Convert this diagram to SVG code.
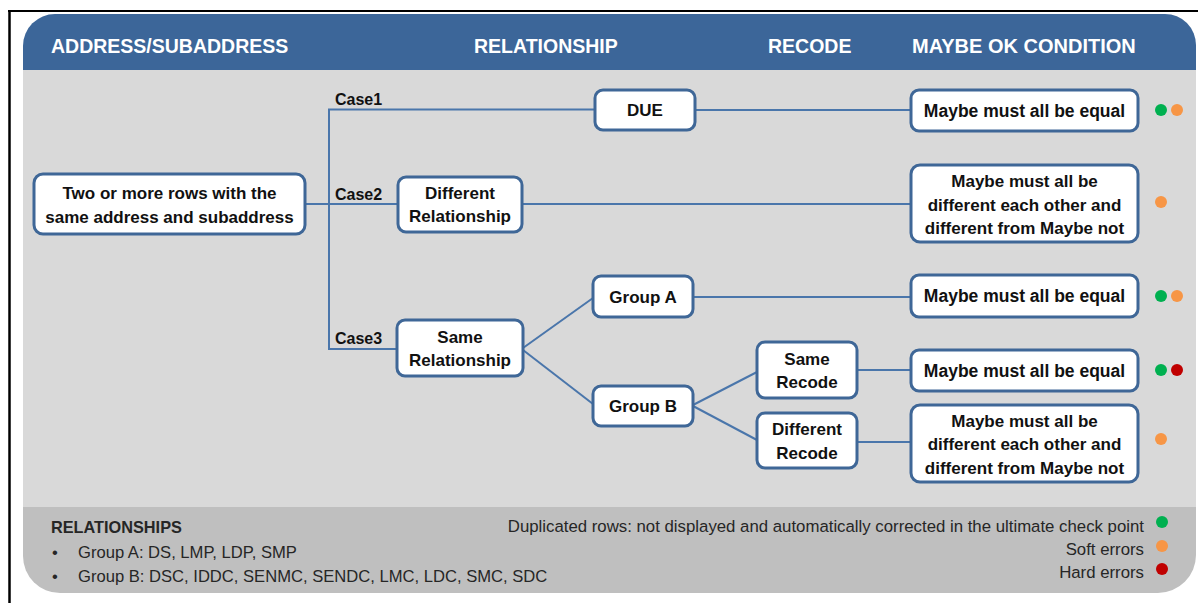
<svg xmlns="http://www.w3.org/2000/svg" width="1198" height="603" viewBox="0 0 1198 603">
  <defs>
    <clipPath id="panelClip">
      <path d="M23,46 A32,32 0 0 1 55,14 H1165 A31,31 0 0 1 1196,45 V555 A38,38 0 0 1 1158,593 H60 A37,37 0 0 1 23,556 Z"/>
    </clipPath>
    <style>
      .box { fill: #ffffff; stroke: #3f6797; stroke-width: 3; }
      .lbl { font-family: "Liberation Sans", Arial, sans-serif; font-weight: bold; font-size: 17px; fill: #111111; text-anchor: middle; }
      .eq { font-size: 17.5px; }
      .head { font-family: "Liberation Sans", Arial, sans-serif; font-weight: bold; font-size: 19.5px; fill: #ffffff; }
      .case { font-family: "Liberation Sans", Arial, sans-serif; font-weight: bold; font-size: 16px; fill: #111111; }
      .wire { fill: none; stroke: #4a76ab; stroke-width: 2; }
      .legend { font-family: "Liberation Sans", Arial, sans-serif; font-size: 16.6px; fill: #262626; }
      .legendR { font-family: "Liberation Sans", Arial, sans-serif; font-size: 16.8px; fill: #262626; text-anchor: end; }
      .green { fill: #00b050; }
      .orange { fill: #f79646; }
      .red { fill: #c00000; }
    </style>
  </defs>

  <!-- outer frame lines -->
  <line x1="8" y1="11" x2="1198" y2="11" stroke="#000" stroke-width="2"/>
  <line x1="9.5" y1="10" x2="9.5" y2="603" stroke="#000" stroke-width="2.5"/>

  <!-- panel: header band, body, footer band -->
  <g id="panel" clip-path="url(#panelClip)">
    <rect x="20" y="12" width="1180" height="58" fill="#3c6699"/>
    <rect x="20" y="70" width="1180" height="437" fill="#d9d9d9"/>
    <rect x="20" y="507" width="1180" height="90" fill="#bfbfbf"/>
  </g>

  <!-- column headings -->
  <g id="headings">
    <text class="head" x="51" y="53">ADDRESS/SUBADDRESS</text>
    <text class="head" x="474" y="53">RELATIONSHIP</text>
    <text class="head" x="768" y="53">RECODE</text>
    <text class="head" x="912" y="53" style="font-size:20px">MAYBE OK CONDITION</text>
  </g>

  <!-- connectors -->
  <g id="connectors">
    <line class="wire" x1="305" y1="204" x2="330" y2="204" stroke-width="3"/>
    <line class="wire" x1="329" y1="109.5" x2="329" y2="349"/>
    <line class="wire" x1="328" y1="109.5" x2="595" y2="109.5"/>
    <line class="wire" x1="329" y1="204" x2="398" y2="204"/>
    <line class="wire" x1="328" y1="349" x2="397" y2="349"/>
    <line class="wire" x1="695" y1="110" x2="911" y2="110"/>
    <line class="wire" x1="522" y1="204" x2="911" y2="204"/>
    <line class="wire" x1="523" y1="348" x2="593" y2="298"/>
    <line class="wire" x1="523" y1="350" x2="593" y2="404"/>
    <line class="wire" x1="693" y1="297" x2="911" y2="297"/>
    <line class="wire" x1="693" y1="405" x2="757" y2="372"/>
    <line class="wire" x1="693" y1="406" x2="757" y2="440"/>
    <line class="wire" x1="857" y1="370" x2="911" y2="370"/>
    <line class="wire" x1="857" y1="442" x2="911" y2="442"/>
    <text class="case" x="335" y="105">Case1</text>
    <text class="case" x="335" y="200">Case2</text>
    <text class="case" x="335" y="344">Case3</text>
  </g>

  <!-- nodes -->
  <g id="rows-node">
    <rect class="box" x="34" y="174" width="271" height="60" rx="9"/>
    <text class="lbl" x="169.5" y="199">Two or more rows with the</text>
    <text class="lbl" x="169.5" y="222.5">same address and subaddress</text>
  </g>
  <g id="due">
    <rect class="box" x="595" y="90" width="100" height="40" rx="8"/>
    <text class="lbl" x="645" y="116">DUE</text>
  </g>
  <g id="different-relationship">
    <rect class="box" x="398" y="177" width="124" height="55" rx="8"/>
    <text class="lbl" x="460" y="198.5">Different</text>
    <text class="lbl" x="460" y="222">Relationship</text>
  </g>
  <g id="same-relationship">
    <rect class="box" x="397" y="320" width="126" height="56" rx="8"/>
    <text class="lbl" x="460" y="342.5">Same</text>
    <text class="lbl" x="460" y="366">Relationship</text>
  </g>
  <g id="group-a">
    <rect class="box" x="593" y="276" width="100" height="41" rx="8"/>
    <text class="lbl" x="643" y="302.5">Group A</text>
  </g>
  <g id="group-b">
    <rect class="box" x="593" y="386" width="100" height="40" rx="8"/>
    <text class="lbl" x="643" y="412">Group B</text>
  </g>
  <g id="same-recode">
    <rect class="box" x="757" y="342" width="100" height="56" rx="8"/>
    <text class="lbl" x="807" y="364.5">Same</text>
    <text class="lbl" x="807" y="388">Recode</text>
  </g>
  <g id="different-recode">
    <rect class="box" x="757" y="413" width="100" height="55" rx="8"/>
    <text class="lbl" x="807" y="435">Different</text>
    <text class="lbl" x="807" y="458.5">Recode</text>
  </g>

  <g id="cond-1">
    <rect class="box" x="911" y="90" width="227" height="41" rx="8"/>
    <text class="lbl eq" x="1024.5" y="116.5">Maybe must all be equal</text>
    <circle class="green" cx="1161" cy="110" r="6"/>
    <circle class="orange" cx="1177" cy="110" r="6"/>
  </g>
  <g id="cond-2">
    <rect class="box" x="911" y="165" width="227" height="77" rx="9"/>
    <text class="lbl" x="1024.5" y="187">Maybe must all be</text>
    <text class="lbl" x="1024.5" y="210.5">different each other and</text>
    <text class="lbl" x="1024.5" y="234">different from Maybe not</text>
    <circle class="orange" cx="1161" cy="202" r="6"/>
  </g>
  <g id="cond-3">
    <rect class="box" x="911" y="275" width="227" height="42" rx="8"/>
    <text class="lbl eq" x="1024.5" y="302">Maybe must all be equal</text>
    <circle class="green" cx="1161" cy="296" r="6"/>
    <circle class="orange" cx="1177" cy="296" r="6"/>
  </g>
  <g id="cond-4">
    <rect class="box" x="911" y="350" width="227" height="41" rx="8"/>
    <text class="lbl eq" x="1024.5" y="376.5">Maybe must all be equal</text>
    <circle class="green" cx="1161" cy="370" r="6"/>
    <circle class="red" cx="1177" cy="370" r="6"/>
  </g>
  <g id="cond-5">
    <rect class="box" x="911" y="405" width="227" height="77" rx="9"/>
    <text class="lbl" x="1024.5" y="426.5">Maybe must all be</text>
    <text class="lbl" x="1024.5" y="450">different each other and</text>
    <text class="lbl" x="1024.5" y="473.5">different from Maybe not</text>
    <circle class="orange" cx="1161" cy="439" r="6"/>
  </g>

  <!-- legend -->
  <g id="legend">
    <text class="legend" x="51" y="533" style="font-weight:bold;font-size:16.3px">RELATIONSHIPS</text>
    <text class="legend" x="52" y="558">•</text>
    <text class="legend" x="78" y="558">Group A: DS, LMP, LDP, SMP</text>
    <text class="legend" x="52" y="582">•</text>
    <text class="legend" x="78" y="582">Group B: DSC, IDDC, SENMC, SENDC, LMC, LDC, SMC, SDC</text>
    <text class="legendR" x="1144" y="532">Duplicated rows: not displayed and automatically corrected in the ultimate check point</text>
    <text class="legendR" x="1144" y="555">Soft errors</text>
    <text class="legendR" x="1144" y="578">Hard errors</text>
    <circle class="green" cx="1162" cy="522" r="6"/>
    <circle class="orange" cx="1162" cy="546" r="6"/>
    <circle class="red" cx="1162" cy="569" r="6"/>
  </g>
</svg>
